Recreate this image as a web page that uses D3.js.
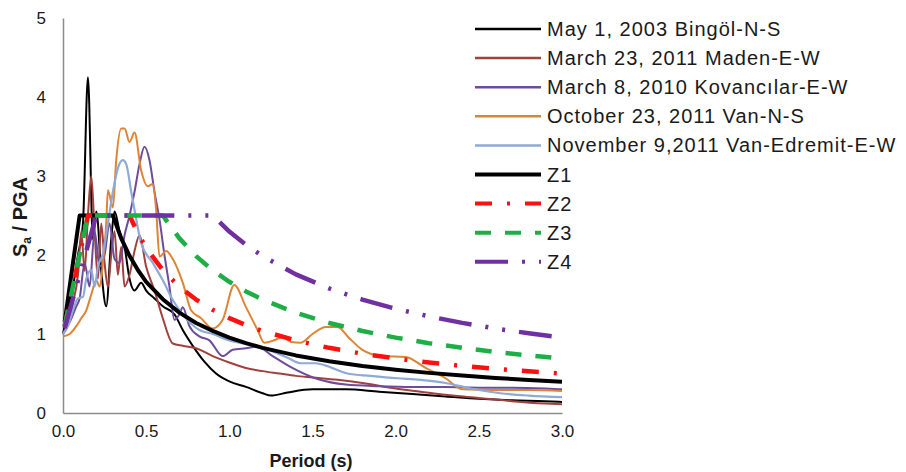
<!DOCTYPE html>
<html>
<head>
<meta charset="utf-8">
<script src="https://cdn.jsdelivr.net/npm/d3@7"></script>
<style>
  body { margin: 0; background: #fff; }
  svg { display: block; }
  text { font-family: "Liberation Sans", Arial, sans-serif; fill: #1a1a1a; }
</style>
</head>
<body>
<svg id="chart" width="906" height="472"></svg>
<script>
// --- recorded spectra (period s, Sa/PGA) ---
const bingolT = [0, 0.03, 0.06, 0.09, 0.12, 0.15, 0.18, 0.2, 0.23, 0.26, 0.29, 0.31, 0.34, 0.37, 0.4, 0.43, 0.47, 0.5, 0.55, 0.6, 0.67, 0.72, 0.78, 0.85, 0.92, 1.0, 1.1, 1.2, 1.25, 1.35, 1.5, 1.7, 1.9, 2.1, 2.3, 2.5, 2.7, 2.9, 3.0];
const bingolS = [1.0, 1.3, 1.6, 2.0, 2.4, 4.25, 2.2, 2.55, 1.8, 1.35, 2.2, 2.55, 2.3, 2.1, 1.7, 1.55, 1.65, 1.55, 1.45, 1.35, 1.25, 1.05, 0.85, 0.65, 0.5, 0.4, 0.33, 0.25, 0.22, 0.26, 0.3, 0.3, 0.27, 0.24, 0.21, 0.18, 0.16, 0.15, 0.14];

const madenT = [0, 0.03, 0.06, 0.09, 0.11, 0.13, 0.15, 0.17, 0.19, 0.21, 0.23, 0.25, 0.27, 0.29, 0.31, 0.33, 0.35, 0.37, 0.4, 0.43, 0.46, 0.5, 0.55, 0.6, 0.66, 0.72, 0.8, 0.9, 1.0, 1.1, 1.2, 1.3, 1.4, 1.5, 1.65, 1.8, 2.0, 2.15, 2.3, 2.5, 2.7, 2.9, 3.0];
const madenS = [1.0, 1.15, 1.4, 1.75, 2.3, 1.8, 2.5, 3.0, 2.3, 1.7, 2.4, 1.9, 1.6, 2.0, 2.3, 1.75, 2.1, 1.6, 1.75, 2.05, 2.25, 1.85, 1.55, 1.2, 0.88, 0.85, 0.82, 0.72, 0.64, 0.57, 0.53, 0.5, 0.47, 0.45, 0.42, 0.38, 0.31, 0.27, 0.23, 0.19, 0.15, 0.12, 0.11];

const kovanT = [0, 0.04, 0.08, 0.1, 0.13, 0.16, 0.19, 0.22, 0.25, 0.28, 0.31, 0.34, 0.37, 0.4, 0.43, 0.46, 0.49, 0.52, 0.55, 0.58, 0.61, 0.64, 0.67, 0.7, 0.72, 0.76, 0.82, 0.88, 0.96, 1.02, 1.1, 1.17, 1.26, 1.37, 1.53, 1.7, 1.9, 2.1, 2.3, 2.5, 2.7, 2.9, 3.0];
const kovanS = [1.0, 1.15, 1.35, 1.45, 1.9, 1.6, 2.3, 1.85, 2.0, 2.4, 1.95, 1.9, 2.25, 2.5, 2.8, 3.15, 3.37, 3.2, 2.8, 2.45, 2.0, 1.6, 1.18, 1.25, 1.34, 1.1, 0.97, 0.92, 0.72, 0.8, 0.82, 0.84, 0.72, 0.58, 0.43, 0.36, 0.34, 0.33, 0.33, 0.32, 0.32, 0.31, 0.3];

const vanT = [0, 0.04, 0.08, 0.11, 0.14, 0.17, 0.2, 0.22, 0.24, 0.26, 0.27, 0.3, 0.32, 0.35, 0.37, 0.4, 0.43, 0.47, 0.51, 0.54, 0.56, 0.58, 0.62, 0.66, 0.72, 0.77, 0.83, 0.9, 0.96, 1.03, 1.1, 1.17, 1.21, 1.27, 1.32, 1.37, 1.43, 1.5, 1.58, 1.65, 1.72, 1.8, 1.92, 2.06, 2.18, 2.3, 2.4, 2.6, 2.8, 3.0];
const vanS = [0.97, 1.0, 1.1, 1.2, 1.3, 1.5, 1.68, 1.6, 1.9, 2.4, 2.82, 2.6, 3.2, 3.6, 3.6, 3.43, 3.55, 3.07, 2.87, 2.9, 2.57, 1.98, 2.05, 1.95, 1.65, 1.3, 1.2, 1.07, 1.18, 1.62, 1.34, 1.05, 0.89, 0.92, 0.96, 0.9, 0.89, 1.0, 1.09, 1.09, 0.95, 0.8, 0.72, 0.71, 0.57, 0.44, 0.3, 0.29, 0.29, 0.28];

const edremitT = [0, 0.03, 0.06, 0.09, 0.12, 0.14, 0.17, 0.19, 0.21, 0.24, 0.27, 0.3, 0.33, 0.36, 0.38, 0.41, 0.43, 0.47, 0.54, 0.6, 0.66, 0.73, 0.82, 0.9, 1.0, 1.06, 1.16, 1.26, 1.35, 1.43, 1.52, 1.58, 1.71, 1.85, 2.01, 2.15, 2.3, 2.45, 2.63, 2.8, 3.0];
const edremitS = [1.0, 1.1, 1.3, 1.45, 1.47, 1.7, 1.81, 1.6, 1.85, 2.02, 2.4, 2.8, 3.1, 3.2, 3.15, 2.8, 2.57, 2.15, 1.9, 1.68, 1.43, 1.22, 1.05, 1.0, 0.92, 0.89, 0.84, 0.78, 0.7, 0.63, 0.63, 0.6, 0.5, 0.47, 0.44, 0.42, 0.38, 0.31, 0.25, 0.22, 0.2];

// --- design spectra Z1..Z4 (read at common periods) ---
const designT = [0.01, 0.1, 0.15, 0.2, 0.3, 0.35, 0.4, 0.45, 0.5, 0.6, 0.7, 0.8, 0.9, 1.0, 1.1, 1.2, 1.4, 1.6, 1.8, 2.0, 2.2, 2.4, 2.6, 2.8, 3.0];
const z1S = [1.15, 2.5, 2.5, 2.5, 2.5, 2.21, 1.99, 1.81, 1.66, 1.44, 1.27, 1.14, 1.04, 0.954, 0.884, 0.825, 0.729, 0.655, 0.596, 0.548, 0.508, 0.474, 0.444, 0.419, 0.396];
const z2S = [1.1, 2.0, 2.5, 2.5, 2.5, 2.5, 2.5, 2.275, 2.091, 1.807, 1.598, 1.436, 1.307, 1.201, 1.113, 1.038, 0.918, 0.825, 0.751, 0.69, 0.639, 0.596, 0.559, 0.527, 0.499];
const z3S = [1.1, 2.0, 2.5, 2.5, 2.5, 2.5, 2.5, 2.5, 2.5, 2.5, 2.21, 1.986, 1.807, 1.661, 1.539, 1.436, 1.269, 1.14, 1.038, 0.954, 0.884, 0.825, 0.773, 0.729, 0.69];
const z4S = [1.075, 1.75, 2.125, 2.5, 2.5, 2.5, 2.5, 2.5, 2.5, 2.5, 2.5, 2.5, 2.5, 2.297, 2.129, 1.987, 1.755, 1.577, 1.435, 1.32, 1.223, 1.141, 1.069, 1.009, 0.954];

const seriesNames = [
  "May 1, 2003 Bingöl-N-S",
  "March 23, 2011 Maden-E-W",
  "March 8, 2010 Kovancılar-E-W",
  "October 23, 2011 Van-N-S",
  "November 9,2011 Van-Edremit-E-W",
  "Z1", "Z2", "Z3", "Z4"
];
const xTicks = [0, 0.5, 1, 1.5, 2, 2.5, 3];
const yTicks = [0, 1, 2, 3, 4, 5];

// styles per series (records smoothed, design lines straight)
const styles = [
  { color: "#000000", width: 2, dash: null, smooth: true },
  { color: "#a0413d", width: 2, dash: null, smooth: true },
  { color: "#6d4c9c", width: 2, dash: null, smooth: true },
  { color: "#de8435", width: 2, dash: null, smooth: true },
  { color: "#8eaad6", width: 2.2, dash: null, smooth: true },
  { color: "#000000", width: 4, dash: null, smooth: false },
  { color: "#ff1010", width: 4.5, dash: "17,15,3,15", smooth: false },
  { color: "#1fae45", width: 4.5, dash: "16,14", smooth: false },
  { color: "#7030a0", width: 4.5, dash: "33,14,3,14,3,14", smooth: false }
];

const seriesData = [
  d3.zip(bingolT, bingolS),
  d3.zip(madenT, madenS),
  d3.zip(kovanT, kovanS),
  d3.zip(vanT, vanS),
  d3.zip(edremitT, edremitS),
  d3.zip(designT, z1S),
  d3.zip(designT, z2S),
  d3.zip(designT, z3S),
  d3.zip(designT, z4S)
];

const svg = d3.select("#chart");
const x = d3.scaleLinear().domain([0, 3]).range([63, 562]);
const y = d3.scaleLinear().domain([0, 5]).range([413, 18]);

// axes
const xAxis = svg.append("g")
  .attr("transform", `translate(0,${y(0)})`)
  .call(d3.axisBottom(x).tickValues(xTicks).tickSize(0).tickPadding(12)
    .tickFormat(d3.format(".1f")));
const yAxis = svg.append("g")
  .attr("transform", `translate(${x(0)},0)`)
  .call(d3.axisLeft(y).tickValues(yTicks).tickSize(0).tickPadding(17)
    .tickFormat(d3.format("d")));

[xAxis, yAxis].forEach((a) => {
  a.select(".domain").attr("stroke", "#8c8c8c").attr("stroke-width", 1.5);
  a.selectAll("text")
    .attr("font-family", "Liberation Sans, Arial, sans-serif")
    .attr("font-size", 17)
    .attr("fill", "#1a1a1a");
});

// lines
const smoothLine = d3.line()
  .x((d) => x(d[0]))
  .y((d) => y(d[1]))
  .curve(d3.curveMonotoneX);
const straightLine = d3.line()
  .x((d) => x(d[0]))
  .y((d) => y(d[1]));

seriesData.forEach((data, i) => {
  const s = styles[i];
  svg.append("path")
    .datum(data)
    .attr("fill", "none")
    .attr("stroke", s.color)
    .attr("stroke-width", s.width)
    .attr("stroke-linejoin", "round")
    .attr("stroke-dasharray", s.dash)
    .attr("d", s.smooth ? smoothLine : straightLine);
});

// axis titles
svg.append("text")
  .attr("x", 311)
  .attr("y", 467)
  .attr("text-anchor", "middle")
  .attr("font-size", 18)
  .attr("font-weight", "bold")
  .text("Period (s)");

const yTitle = svg.append("text")
  .attr("transform", "translate(27,217) rotate(-90)")
  .attr("text-anchor", "middle")
  .attr("font-size", 20)
  .attr("font-weight", "bold");
yTitle.append("tspan").text("S");
yTitle.append("tspan").attr("font-size", 12).attr("dy", 4).text("a");
yTitle.append("tspan").attr("dy", -4).text(" / PGA");

// legend
const legend = svg.append("g");
seriesNames.forEach((name, i) => {
  const s = styles[i];
  const cy = 29 + i * 29.1;
  legend.append("line")
    .attr("x1", 475).attr("x2", 541)
    .attr("y1", cy).attr("y2", cy)
    .attr("stroke", s.color)
    .attr("stroke-width", i < 5 ? 2.5 : 4)
    .attr("stroke-dasharray", s.dash);
  legend.append("text")
    .attr("x", 547)
    .attr("y", cy + 7)
    .attr("font-size", 20)
    .attr("letter-spacing", 1)
    .text(name);
});
</script>
</body>
</html>
